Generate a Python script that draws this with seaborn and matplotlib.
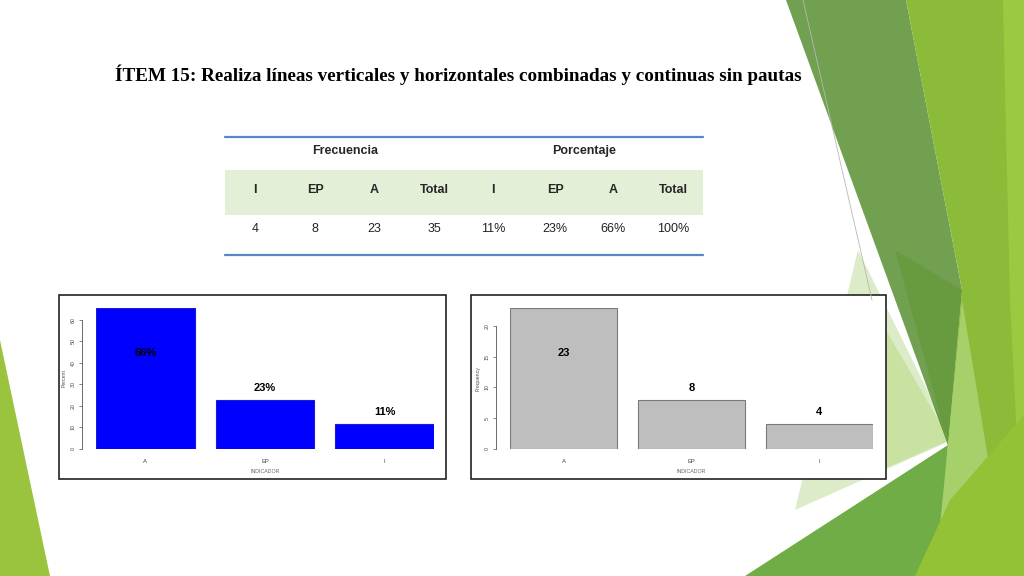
import matplotlib
matplotlib.use("Agg")
import matplotlib.pyplot as plt
from matplotlib.patches import Polygon, Rectangle
import seaborn as sns

# table data
table_cols = ["I", "EP", "A", "Total"]
freq_values = [4, 8, 23, 35]
pct_texts = ["11%", "23%", "66%", "100%"]

# chart data
indicador = ["A", "EP", "I"]
percent = [65.7, 22.9, 11.4]
percent_labels = ["66%", "23%", "11%"]
frequency = [23, 8, 4]

title = "ÍTEM 15: Realiza líneas verticales y horizontales combinadas y continuas sin pautas"

sns.set_theme(style="white")
plt.rcParams["font.family"] = ["Liberation Sans", "DejaVu Sans"]

W, H = 1024, 576
fig = plt.figure(figsize=(10.24, 5.76), dpi=100)
bg = fig.add_axes([0, 0, 1, 1])
bg.set_xlim(0, W)
bg.set_ylim(H, 0)
bg.axis("off")

# slide decoration (green shards)
shapes = [
    ([(858, 250), (952, 440), (795, 510)], "#dcebc8"),
    ([(880, 320), (950, 440), (886, 468)], "#c9e2a2"),
    ([(786, 0), (906, 0), (962, 290), (948, 445)], "#71a051"),
    ([(895, 250), (962, 290), (948, 445)], "#689a40"),
    ([(906, 0), (1024, 0), (1024, 576), (948, 445), (962, 290)], "#8cbb39"),
    ([(1003, 0), (1024, 0), (1024, 576), (1010, 300)], "#9bca41"),
    ([(962, 300), (990, 470), (937, 540), (948, 445)], "#a6d16a"),
    ([(745, 576), (948, 445), (935, 576)], "#70ad47"),
    ([(930, 395), (948, 445), (940, 420)], "#5a9431"),
    ([(915, 576), (950, 500), (1024, 415), (1024, 576)], "#94c237"),
    ([(0, 340), (50, 576), (0, 576)], "#9bc43e"),
]
for pts, col in shapes:
    bg.add_patch(Polygon(pts, closed=True, facecolor=col, edgecolor="none"))
bg.plot([803, 872], [0, 300], color="#b8b8b8", lw=0.6)

bg.text(458, 75, title, ha="center", va="center", fontsize=13.8,
        fontweight="bold", family=["Liberation Serif", "DejaVu Serif"], color="black")

# table
bg.add_patch(Rectangle((225, 170), 478, 45, facecolor="#e3efd7", edgecolor="none"))
bg.plot([225, 703], [137, 137], color="#5b86c5", lw=1.6)
bg.plot([225, 703], [255, 255], color="#5b86c5", lw=1.6)
col_x = [255, 315, 374, 434, 493, 555, 613, 673]
bg.text(345, 151, "Frecuencia", ha="center", va="center", fontsize=9, fontweight="bold")
bg.text(584, 151, "Porcentaje", ha="center", va="center", fontsize=9, fontweight="bold")
header = table_cols + table_cols
row = [str(v) for v in freq_values] + pct_texts
for x, h, r in zip(col_x, header, row):
    bg.text(x, 190, h, ha="center", va="center", fontsize=9, fontweight="bold")
    bg.text(x, 229, r, ha="center", va="center", fontsize=9, color="#222222")

# chart frames
for x0, x1 in [(59, 446), (471, 886)]:
    bg.add_patch(Rectangle((x0, 295), x1 - x0, 184, facecolor="white",
                           edgecolor="#222222", lw=1.2))


def bar_chart(left, right, values, labels, color, edge, width, ymax, ticks, ylabel):
    ax = fig.add_axes([left / W, (H - 449) / H, (right - left) / W, (449 - 307.5) / H])
    sns.barplot(x=indicador, y=values, color=color, edgecolor=edge, linewidth=0.8,
                width=width, saturation=1, ax=ax)
    half = width / 2
    ax.set_xlim(-half, len(values) - 1 + half)
    ax.set_ylim(0, ymax)
    ax.patch.set_alpha(0)
    for s in ["top", "right", "bottom"]:
        ax.spines[s].set_visible(False)
    ax.spines["left"].set_position(("outward", 10))
    ax.spines["left"].set_bounds(ticks[0], ticks[-1])
    ax.spines["left"].set_color("#555555")
    ax.spines["left"].set_linewidth(0.6)
    ax.set_yticks(ticks)
    ax.set_yticklabels([str(t) for t in ticks], rotation=90, va="center",
                       fontsize=3.8, color="#444444")
    ax.tick_params(axis="y", left=True, length=2.5, width=0.5, color="#555555", pad=2)
    ax.tick_params(axis="x", bottom=False, length=0, labelsize=4.2,
                   labelcolor="#444444", pad=7)
    ax.set_ylabel(ylabel, fontsize=3.8, color="#555555", labelpad=3)
    ax.set_xlabel("INDICADOR", fontsize=3.8, color="#666666", labelpad=4)
    top = max(values)
    for i, (v, lab) in enumerate(zip(values, labels)):
        ly = v + 0.085 * top if v < 0.5 * top else 0.68 * v
        ax.text(i, ly, lab, ha="center", va="center", fontsize=8,
                fontweight="bold", color="black")
    return ax


bar_chart(96, 434, percent, percent_labels, "#0000ff", "#1a1ad0", 0.825,
          max(percent), [0, 10, 20, 30, 40, 50, 60], "Percent")
bar_chart(510, 873, frequency, [str(v) for v in frequency], "#bebebe", "#7a7a7a", 0.836,
          max(frequency), [0, 5, 10, 15, 20], "Frequency")

fig.savefig("out.png", dpi=100)
